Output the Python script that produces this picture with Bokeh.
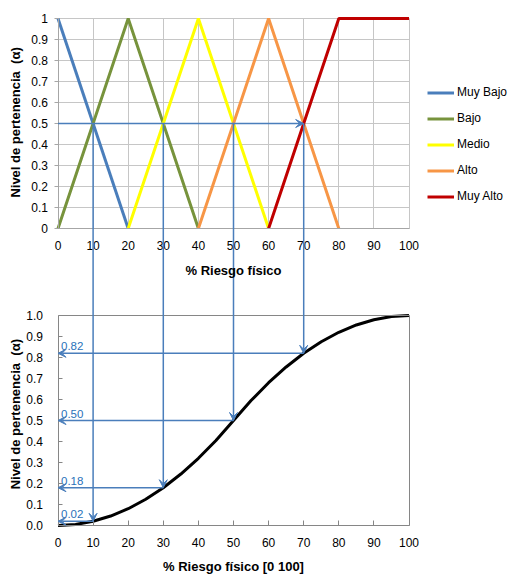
import math
from bokeh.plotting import figure
from bokeh.models import (Range1d, LinearAxis, FixedTicker, NumeralTickFormatter, Grid,
                          Legend, LegendItem, Arrow, VeeHead, Label, ColumnDataSource)
from bokeh.core.properties import value
from bokeh.embed import file_html
from bokeh.resources import INLINE

# ---------------- data ----------------
x_ticks = [0, 10, 20, 30, 40, 50, 60, 70, 80, 90, 100]
y_ticks = [0, 0.1, 0.2, 0.3, 0.4, 0.5, 0.6, 0.7, 0.8, 0.9, 1]

series_names = ["Muy Bajo", "Bajo", "Medio", "Alto", "Muy Alto"]
series_colors = ["#4A7EBB", "#77933C", "#FFFF00", "#F79646", "#C00000"]
muy_bajo_x = [0, 20]
muy_bajo_y = [1, 0]
bajo_x = [0, 20, 40]
bajo_y = [0, 1, 0]
medio_x = [20, 40, 60]
medio_y = [0, 1, 0]
alto_x = [40, 60, 80]
alto_y = [0, 1, 0]
muy_alto_x = [60, 80, 100]
muy_alto_y = [0, 1, 1]

curve_x = [0, 5, 10, 15, 20, 25, 30, 35, 40, 45, 50, 55, 60, 65, 70, 75, 80, 85, 90, 95, 100]
curve_y = [0, 0.005, 0.02, 0.045, 0.08, 0.125, 0.18, 0.245, 0.32, 0.405, 0.5,
           0.595, 0.68, 0.755, 0.82, 0.875, 0.92, 0.955, 0.98, 0.995, 1]

input_level = 0.5
riesgo = [10, 30, 50, 70]
nivel = [0.02, 0.18, 0.50, 0.82]
nivel_text = ["0.02", "0.18", "0.50", "0.82"]

# ---------------- layout (pixels) ----------------
W, H = 520, 580
PX_X = 3.51          # pixels per x unit
PX_Y = 210.0         # pixels per y unit (both charts)
X_ZERO_PX = 57.5     # x = 0 column
TOP_ONE_PX = 18.0    # upper chart y = 1 row
BOT_ZERO_PX = 525.0  # lower chart y = 0 row

x_range = Range1d(-X_ZERO_PX / PX_X, (W - X_ZERO_PX) / PX_X)
bot_start = -(H - BOT_ZERO_PX) / PX_Y
bot_range = Range1d(bot_start, bot_start + H / PX_Y)
top_end = 1 + TOP_ONE_PX / PX_Y
top_range = Range1d(top_end - H / PX_Y, top_end)


def to_bottom(t):
    # a value of the upper chart expressed in the lower chart's coordinates (same pixel row)
    return t - top_range.start + bot_range.start


FONT = "Liberation Sans"
GRID = "#C6C6C6"
TOP_AX = "#A6A6A6"
BOX = "#868686"
ARROW = "#4A7EBB"
LABEL_BLUE = "#2A72BA"

p = figure(width=W, height=H, x_range=x_range, y_range=bot_range,
           x_axis_location=None, y_axis_location=None,
           toolbar_location=None, output_backend="svg", min_border=0,
           outline_line_color=None, background_fill_color="white", border_fill_color="white")
p.extra_y_ranges = {"top": top_range}
p.grid.visible = False

# ---------- upper chart grid ----------
p.add_layout(Grid(dimension=0, ticker=FixedTicker(ticks=x_ticks), y_range_name="top",
                  cross_bounds=(0, 1), grid_line_color=GRID, grid_line_width=1))
p.add_layout(Grid(dimension=1, ticker=FixedTicker(ticks=y_ticks), y_range_name="top",
                  cross_bounds=(0, 100), grid_line_color=GRID, grid_line_width=1))


def style_axis(ax):
    ax.major_label_text_font = FONT
    ax.major_label_text_font_size = "12px"
    ax.major_label_text_color = "black"
    ax.minor_tick_line_color = None
    return ax


top_x = style_axis(LinearAxis(y_range_name="top", fixed_location=0, bounds=(0, 100),
                              ticker=FixedTicker(ticks=x_ticks), axis_line_color=TOP_AX,
                              major_tick_in=0, major_tick_out=0, major_label_standoff=12))
p.add_layout(top_x, "below")
top_y = style_axis(LinearAxis(y_range_name="top", fixed_location=0, bounds=(0, 1),
                              ticker=FixedTicker(ticks=y_ticks),
                              formatter=NumeralTickFormatter(format="0.[0]"),
                              axis_line_color=TOP_AX, major_tick_line_color=TOP_AX,
                              major_tick_in=0, major_tick_out=4, major_label_standoff=6))
p.add_layout(top_y, "left")

bot_x = style_axis(LinearAxis(fixed_location=0, bounds=(0, 100),
                              ticker=FixedTicker(ticks=x_ticks), axis_line_color=BOX,
                              major_tick_line_color=BOX, major_tick_in=5, major_tick_out=0,
                              major_label_standoff=12))
p.add_layout(bot_x, "below")
bot_y = style_axis(LinearAxis(fixed_location=0, bounds=(0, 1),
                              ticker=FixedTicker(ticks=y_ticks),
                              formatter=NumeralTickFormatter(format="0.0"),
                              axis_line_color=BOX, major_tick_line_color=BOX,
                              major_tick_in=4, major_tick_out=0, major_label_standoff=15))
p.add_layout(bot_y, "left")
bot_top = LinearAxis(fixed_location=1, bounds=(0, 100), ticker=FixedTicker(ticks=[]),
                     axis_line_color=BOX, major_tick_line_color=None, minor_tick_line_color=None)
p.add_layout(bot_top, "above")
bot_right = LinearAxis(fixed_location=100, bounds=(0, 1), ticker=FixedTicker(ticks=[]),
                       axis_line_color=BOX, major_tick_line_color=None, minor_tick_line_color=None)
p.add_layout(bot_right, "right")

# ---------- upper chart membership functions ----------
series_xy = [(muy_bajo_x, muy_bajo_y), (bajo_x, bajo_y), (medio_x, medio_y),
             (alto_x, alto_y), (muy_alto_x, muy_alto_y)]
rends = []
for (xs, ys), c in zip(series_xy, series_colors):
    rends.append(p.line(xs, ys, y_range_name="top", line_color=c, line_width=3))

# legend: glyph column starts at x=427px, items centred from y=92px, 26px apart
LEG_X, LEG_TOP = 427, 81.5
n_items = len(series_names)
leg_h = n_items * 21 + (n_items - 1) * 5
legend = Legend(items=[LegendItem(label=n, renderers=[r]) for n, r in zip(series_names, rends)],
                location=(LEG_X, H - LEG_TOP - leg_h), orientation="vertical",
                glyph_width=27, glyph_height=21, label_height=21, label_standoff=3,
                spacing=5, padding=0, margin=0, border_line_color=None,
                background_fill_alpha=0, label_text_font=FONT, label_text_font_size="12px",
                label_text_color="black")
p.add_layout(legend)

# ---------- lower chart curve ----------
p.line(curve_x, curve_y, line_color="black", line_width=3)


# ---------- arrows ----------
def head():
    return VeeHead(size=8, line_color=ARROW, fill_color=ARROW, line_width=1)


p.add_layout(Arrow(x_start=x_ticks[0], y_start=input_level, x_end=riesgo[-1], y_end=input_level,
                   y_range_name="top", end=head(), line_color=ARROW, line_width=1.5))

vsrc = ColumnDataSource(dict(x0=riesgo, y0=[to_bottom(input_level)] * len(riesgo),
                             x1=riesgo, y1=nivel))
p.add_layout(Arrow(x_start="x0", y_start="y0", x_end="x1", y_end="y1", source=vsrc,
                   end=head(), line_color=ARROW, line_width=1.5))

hsrc = ColumnDataSource(dict(x0=riesgo, y0=nivel, x1=[x_ticks[0]] * len(riesgo), y1=nivel))
p.add_layout(Arrow(x_start="x0", y_start="y0", x_end="x1", y_end="y1", source=hsrc,
                   end=head(), line_color=ARROW, line_width=1.5))

p.text(x=[x_ticks[0]] * len(nivel), y=nivel, text=nivel_text, x_offset=3, y_offset=-3,
       text_baseline="bottom", text_align="left", text_font=value(FONT),
       text_font_size="11.5px", text_color=LABEL_BLUE)

# ---------- titles ----------
y_title = "Nivel de pertenencia\u00a0 (\u03b1)"
title_kw = dict(text_font=FONT, text_font_size="13px", text_font_style="bold",
                text_color="black", text_align="center", text_baseline="middle")
p.add_layout(Label(x=-12, y=0.505, y_range_name="top", text=y_title,
                   angle=math.pi / 2, **title_kw))
p.add_layout(Label(x=-12, y=0.53, text=y_title, angle=math.pi / 2, **title_kw))
p.add_layout(Label(x=50, y=-0.2, y_range_name="top", text="% Riesgo f\u00edsico", **title_kw))
p.add_layout(Label(x=50, y=-0.195, text="% Riesgo f\u00edsico [0 100]", **title_kw))

open("out.html", "w").write(file_html(p, INLINE))
